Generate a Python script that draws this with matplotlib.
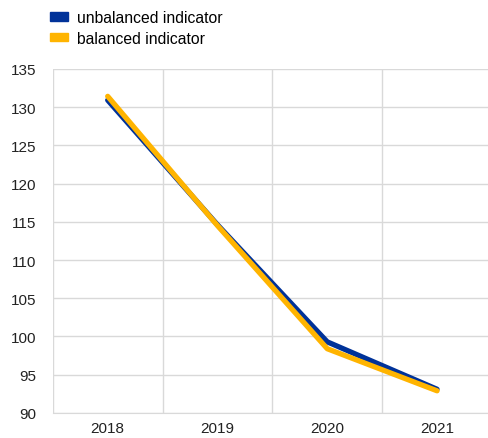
import matplotlib.pyplot as plt
from matplotlib.patches import Patch

plt.rcParams['font.family'] = ['Liberation Sans', 'DejaVu Sans']

years = ['2018', '2019', '2020', '2021']
unbalanced = [130.9, 114.6, 99.3, 93.1]
balanced = [131.4, 114.5, 98.4, 92.9]

fig = plt.figure(figsize=(4.89, 4.39), dpi=100)
ax = fig.add_axes([0.108, 0.057, 0.898, 0.784])

x = list(range(len(years)))
ax.plot(x, unbalanced, color='#003299', linewidth=3.8, solid_capstyle='round', zorder=3)
ax.plot(x, balanced, color='#ffb400', linewidth=3.8, solid_capstyle='round', zorder=4)

ax.set_xlim(-0.5, 3.5)
ax.set_ylim(90, 135)
ax.set_yticks(range(90, 136, 5))
ax.set_xticks(x)
ax.set_xticklabels(years)
ax.set_xticks([-0.5, 0.5, 1.5, 2.5, 3.5], minor=True)

ax.grid(axis='y', which='major', color='#d9d9d9', linewidth=1)
ax.grid(axis='x', which='minor', color='#d9d9d9', linewidth=1)
for s in ['top', 'right', 'left']:
    ax.spines[s].set_visible(False)
ax.spines['bottom'].set_color('#d9d9d9')
ax.tick_params(which='both', length=0, labelsize=11, colors='#222222')
ax.tick_params(axis='y', pad=12)
ax.tick_params(axis='x', pad=6)

handles = [Patch(color='#003299', label='unbalanced indicator'),
           Patch(color='#ffb400', label='balanced indicator')]
fig.legend(handles=handles, loc='upper left', bbox_to_anchor=(0.074, 1.007), frameon=False,
           fontsize=11.3, handlelength=1.1, handleheight=0.45, handletextpad=0.6,
           labelspacing=0.35)

plt.savefig('out.png', dpi=100)
